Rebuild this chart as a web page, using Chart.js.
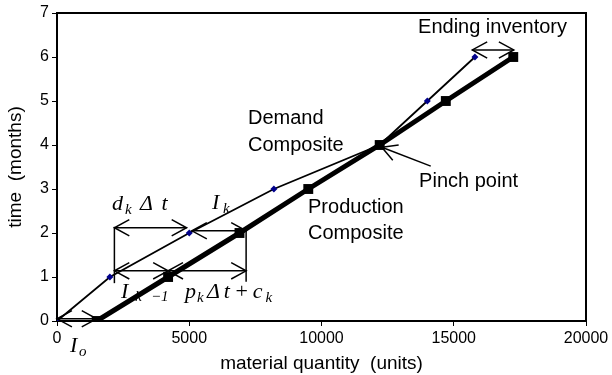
<!DOCTYPE html>
<html><head><meta charset="utf-8">
<script src="https://cdn.jsdelivr.net/npm/chart.js@4/dist/chart.umd.min.js"></script>
<style>html,body{margin:0;padding:0;background:#fff}#wrap{width:612px;height:375px}</style>
</head><body><div id="wrap"><canvas id="c" width="612" height="375"></canvas></div>
<script>
// ---- data ----
const months = [0, 1, 2, 3, 4, 5, 6];
const demandQty = [0, 2000, 5000, 8200, 12200, 14000, 15800];
const productionQty = [1500, 4200, 6900, 9500, 12200, 14700, 17250];
const xTicks = [0, 5000, 10000, 15000, 20000];
const yTicks = [0, 1, 2, 3, 4, 5, 6, 7];

// ---- annotations (data coordinates) ----
// [x1, y1, x2, y2, headAtStart, headAtEnd]
const arrowSegs = [
  [0, 0.05, 1500, 0.05, true, true],          // I_o
  [2170, 2.12, 4900, 2.12, true, true],       // d_k Δt
  [5100, 2.05, 7150, 2.05, true, true],       // I_k
  [2170, 1.14, 4200, 1.14, true, true],       // I_{k-1}
  [4200, 1.14, 7150, 1.14, true, true],       // p_k Δt + c_k
  [15700, 6.16, 17270, 6.16, true, true],     // ending inventory
  [14130, 3.52, 12280, 3.95, false, true],    // pinch point
  [2170, 0.86, 2170, 2.14, false, false],
  [7150, 0.89, 7150, 2.07, false, false]
];
// [text, x, y, kind]
const labels = [
  ['Ending inventory', 13650, 6.66, 'sans'],
  ['Demand', 7220, 4.61, 'sans'],
  ['Composite', 7220, 4.0, 'sans'],
  ['Pinch point', 13690, 3.16, 'sans'],
  ['Production', 9490, 2.57, 'sans'],
  ['Composite', 9490, 1.98, 'sans'],
  ['d', 2080, 2.52, 'math'], ['k', 2570, 2.43, 'sub'], ['\u0394', 3140, 2.52, 'math'], ['t', 3950, 2.52, 'math'],
  ['I', 5860, 2.55, 'math'], ['k', 6280, 2.45, 'sub'],
  ['I', 2420, 0.52, 'math'], ['k', 2950, 0.45, 'sub'], ['\u22121', 3550, 0.45, 'sub'],
  ['p', 4840, 0.52, 'math'], ['k', 5290, 0.43, 'sub'], ['\u0394', 5670, 0.52, 'math'], ['t', 6300, 0.52, 'math'],
  ['+', 6750, 0.52, 'mathn'], ['c', 7400, 0.52, 'math'], ['k', 7880, 0.43, 'sub'],
  ['I', 490, -0.70, 'math'], ['o', 830, -0.80, 'sub']
];

const fonts = {
  sans: '20px "Liberation Sans", Arial, sans-serif',
  math: 'italic 22px "Liberation Serif", "Times New Roman", serif',
  mathn: '22px "Liberation Serif", "Times New Roman", serif',
  sub: 'italic 15px "Liberation Serif", "Times New Roman", serif'
};

function head(ctx, tx, ty, fx, fy) {
  const a = Math.atan2(fy - ty, fx - tx), L = 17, s = 0.5;
  ctx.beginPath();
  ctx.moveTo(tx + L * Math.cos(a - s), ty + L * Math.sin(a - s));
  ctx.lineTo(tx, ty);
  ctx.lineTo(tx + L * Math.cos(a + s), ty + L * Math.sin(a + s));
  ctx.stroke();
}

const annot = {
  id: 'annot',
  afterDraw(chart) {
    const ctx = chart.ctx, xs = chart.scales.x, ys = chart.scales.y, ca = chart.chartArea;
    ctx.save();
    ctx.strokeStyle = '#000'; ctx.lineWidth = 2;
    ctx.beginPath();
    ctx.moveTo(ca.left, ca.top); ctx.lineTo(ca.right, ca.top); ctx.lineTo(ca.right, ca.bottom);
    ctx.stroke();
    ctx.lineWidth = 1.5;
    arrowSegs.forEach(([x1, y1, x2, y2, h1, h2]) => {
      const p1x = xs.getPixelForValue(x1), p1y = ys.getPixelForValue(y1);
      const p2x = xs.getPixelForValue(x2), p2y = ys.getPixelForValue(y2);
      ctx.beginPath(); ctx.moveTo(p1x, p1y); ctx.lineTo(p2x, p2y); ctx.stroke();
      if (h1) head(ctx, p1x, p1y, p2x, p2y);
      if (h2) head(ctx, p2x, p2y, p1x, p1y);
    });
    ctx.fillStyle = '#000';
    labels.forEach(([t, x, y, k]) => {
      ctx.font = fonts[k];
      ctx.textAlign = 'left';
      ctx.textBaseline = k === 'sans' ? 'middle' : 'alphabetic';
      ctx.fillText(t, xs.getPixelForValue(x), ys.getPixelForValue(y));
    });
    ctx.restore();
  }
};

new Chart(document.getElementById('c'), {
  type: 'scatter',
  data: {
    datasets: [
      {
        label: 'Demand Composite',
        data: months.map((m, i) => ({ x: demandQty[i], y: m })),
        showLine: true, borderColor: '#000', borderWidth: 1.8,
        pointStyle: 'rectRot', pointRadius: 3.5, pointBackgroundColor: '#00008b', pointBorderColor: '#00008b', pointBorderWidth: 0,
        order: 1
      },
      {
        label: 'Production Composite',
        data: months.map((m, i) => ({ x: productionQty[i], y: m })),
        showLine: true, borderColor: '#000', borderWidth: 5,
        pointStyle: 'rect', pointRadius: 7, pointBackgroundColor: '#000', pointBorderColor: '#000', pointBorderWidth: 0,
        order: 0
      }
    ]
  },
  options: {
    responsive: false, animation: false, devicePixelRatio: 1,
    layout: { padding: { left: 0, top: 13, right: 26, bottom: 0 } },
    plugins: { legend: { display: false }, tooltip: { enabled: false } },
    scales: {
      x: {
        type: 'linear', min: 0, max: 20000,
        afterBuildTicks: s => { s.ticks = xTicks.map(v => ({ value: v })); },
        afterFit: s => { s.height = 54; },
        ticks: { color: '#000', font: { family: '"Liberation Sans", Arial', size: 16 }, padding: 3, maxRotation: 0, callback: v => String(v) },
        grid: { drawOnChartArea: false, drawTicks: true, tickLength: 5, color: '#000', lineWidth: 1 },
        border: { display: true, color: '#000', width: 2 },
        title: { display: true, text: 'material quantity  (units)', color: '#000', font: { family: '"Liberation Sans", Arial', size: 19 }, padding: { top: 0, bottom: 0 } }
      },
      y: {
        type: 'linear', min: 0, max: 7,
        afterBuildTicks: s => { s.ticks = yTicks.map(v => ({ value: v })); },
        afterFit: s => { s.width = 57; },
        ticks: { color: '#000', font: { family: '"Liberation Sans", Arial', size: 16 }, padding: 3 },
        grid: { drawOnChartArea: false, drawTicks: true, tickLength: 5, color: '#000', lineWidth: 1 },
        border: { display: true, color: '#000', width: 2 },
        title: { display: true, text: 'time  (months)', color: '#000', font: { family: '"Liberation Sans", Arial', size: 19 }, padding: { top: 4, bottom: 0 } }
      }
    }
  },
  plugins: [annot]
});
</script></body></html>
